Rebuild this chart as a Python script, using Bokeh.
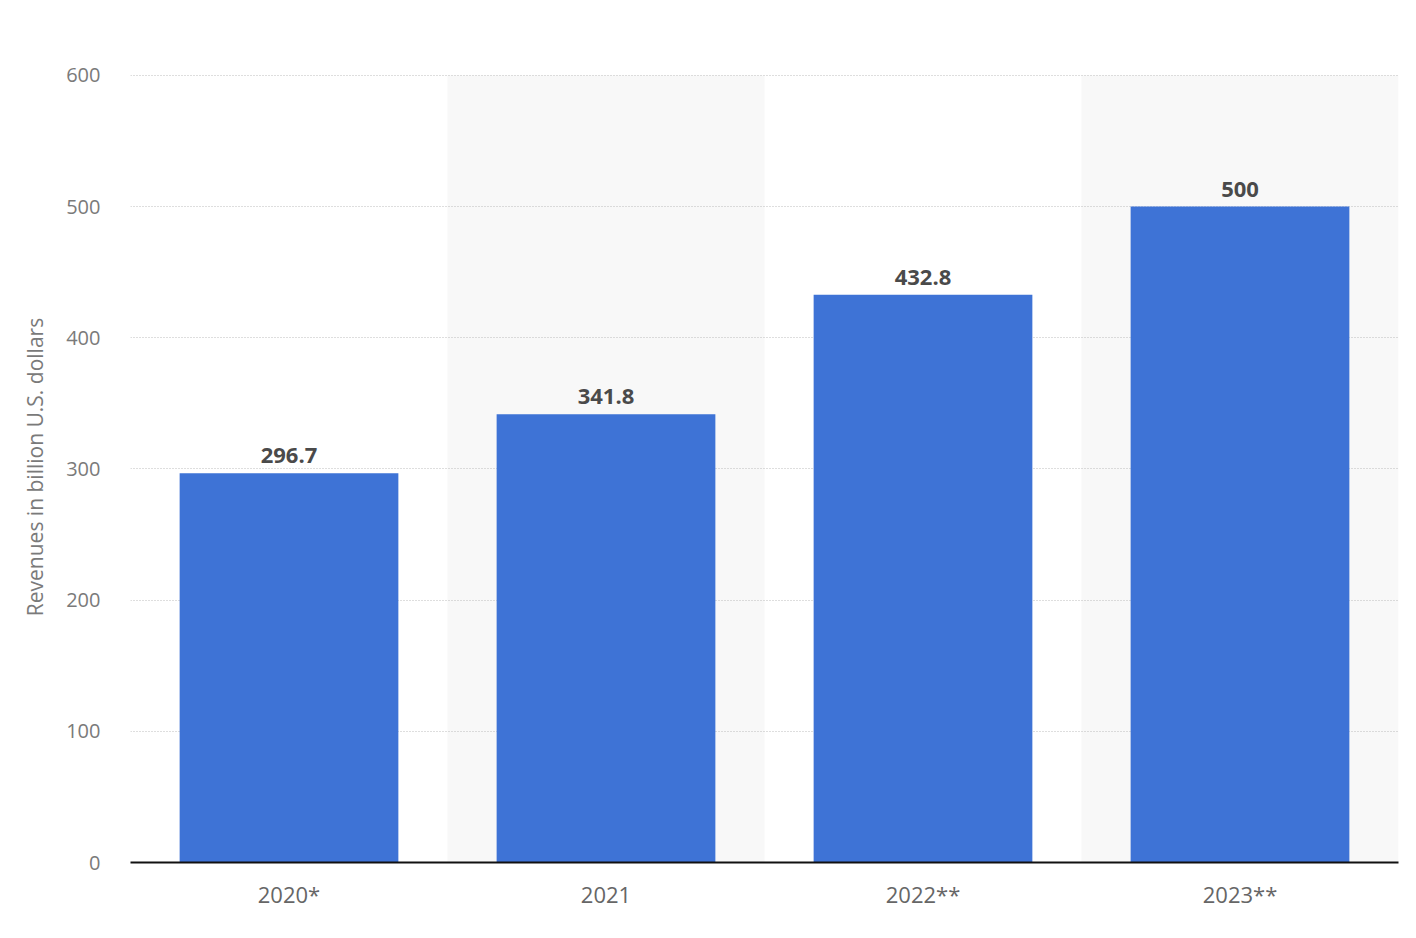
from bokeh.plotting import figure
from bokeh.models import ColumnDataSource, FixedTicker, Range1d, LabelSet
from bokeh.core.properties import value
from bokeh.embed import file_html
from bokeh.resources import INLINE

categories = ["2020*", "2021", "2022**", "2023**"]
values = [296.7, 341.8, 432.8, 500]
value_labels = ["296.7", "341.8", "432.8", "500"]
band_categories = ["2021", "2023**"]
y_ticks = [0, 100, 200, 300, 400, 500, 600]
y_max = 600

BAR = "#3e73d6"

p = figure(x_range=categories, y_range=Range1d(0, 603),
           width=1408, height=930, output_backend="svg", toolbar_location=None,
           min_border_left=130, min_border_right=10, min_border_top=71, min_border_bottom=68)
p.outline_line_color = None
p.background_fill_color = "white"

band_src = ColumnDataSource(dict(x=band_categories, top=[y_max] * len(band_categories)))
bands = p.vbar(x="x", top="top", bottom=0, width=1.0, source=band_src,
               fill_color="#f8f8f8", line_color=None)
bands.level = "image"

src = ColumnDataSource(dict(x=categories, top=values, lab=value_labels))
p.vbar(x="x", top="top", width=0.69, source=src, fill_color=BAR, line_color=None)

labels = LabelSet(x="x", y="top", text="lab", source=src, text_align="center",
                  text_baseline="bottom", y_offset=10, text_font=value("Open Sans"),
                  text_font_size="22px", text_font_style="bold", text_color="#4a4a4a")
p.add_layout(labels)

p.xgrid.grid_line_color = None
p.ygrid.grid_line_color = "#bdbdbd"
p.ygrid.grid_line_dash = "1 2"
p.ygrid.grid_line_width = 1

p.yaxis.ticker = FixedTicker(ticks=y_ticks)
p.yaxis.axis_line_color = None
p.yaxis.major_tick_line_color = None
p.yaxis.minor_tick_line_color = None
p.yaxis.major_label_standoff = 24
p.yaxis.major_label_text_font = "Open Sans"
p.yaxis.major_label_text_font_size = "20px"
p.yaxis.major_label_text_color = "#7a7a7a"
p.yaxis.axis_label = "Revenues in billion U.S. dollars"
p.yaxis.axis_label_text_font = "Open Sans"
p.yaxis.axis_label_text_font_size = "21px"
p.yaxis.axis_label_text_font_style = "normal"
p.yaxis.axis_label_text_color = "#7a7a7a"
p.yaxis.axis_label_standoff = 14

p.xaxis.axis_line_color = "#111111"
p.xaxis.axis_line_width = 2
p.xaxis.major_tick_line_color = None
p.xaxis.minor_tick_line_color = None
p.xaxis.major_label_standoff = 10
p.xaxis.major_label_text_font = "Open Sans"
p.xaxis.major_label_text_font_size = "22px"
p.xaxis.major_label_text_color = "#666666"

open("out.html", "w").write(file_html(p, INLINE))
